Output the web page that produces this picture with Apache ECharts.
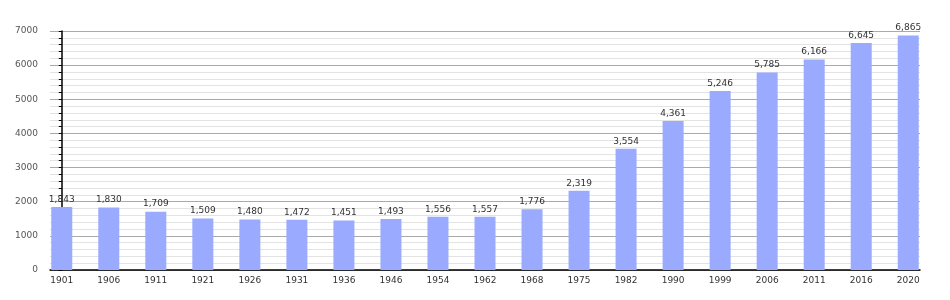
<!DOCTYPE html>
<html><head><meta charset="utf-8">
<script src="https://cdn.jsdelivr.net/npm/echarts@6/dist/echarts.min.js"></script>
<style>html,body{margin:0;padding:0;background:#fff}#c{width:950px;height:300px}</style>
</head><body><div id="c"></div>
<script>
const years = ['1901','1906','1911','1921','1926','1931','1936','1946','1954','1962','1968','1975','1982','1990','1999','2006','2011','2016','2020'];
const population = [1843,1830,1709,1509,1480,1472,1451,1493,1556,1557,1776,2319,3554,4361,5246,5785,6166,6645,6865];
const yTicks = [0,1000,2000,3000,4000,5000,6000,7000];

const chart = echarts.init(document.getElementById('c'), null, {renderer:'canvas'});
const font = 'DejaVu Sans';
chart.setOption({
  animation:false,
  backgroundColor:'#fff',
  grid:{left:50,right:30,top:31,bottom:30,containLabel:false},
  xAxis:{
    type:'value', min:-0.25, max:years.length-0.75,
    splitLine:{show:false},
    axisLine:{show:true,onZero:false,lineStyle:{color:'#000',width:1.5}},
    axisTick:{show:false},
    axisLabel:{customValues:years.map((_,i)=>i),formatter:v=>years[Math.round(v)],
      color:'#333',fontFamily:font,fontSize:9,margin:6}
  },
  yAxis:{
    type:'value', min:yTicks[0], max:yTicks[yTicks.length-1], interval:1000,
    axisLine:{show:true,lineStyle:{color:'#000',width:1.5}},
    axisTick:{show:true,length:3,lineStyle:{color:'#000'}},
    minorTick:{show:true,splitNumber:5,length:3,lineStyle:{color:'#000'}},
    splitLine:{show:true,lineStyle:{color:'#aaa',width:1}},
    minorSplitLine:{show:true,lineStyle:{color:'#e3e3e3',width:1}},
    axisLabel:{color:'#555',fontFamily:font,fontSize:9,margin:12,formatter:v=>String(v)}
  },
  series:[{
    type:'bar', barWidth:21,
    data:population.map((v,i)=>[i,v]),
    itemStyle:{color:'#99aaff'},
    label:{show:true,position:'top',distance:3,color:'#333',fontFamily:font,fontSize:9,
      formatter:p=>p.value[1].toLocaleString('en-US')}
  }]
});
</script></body></html>
